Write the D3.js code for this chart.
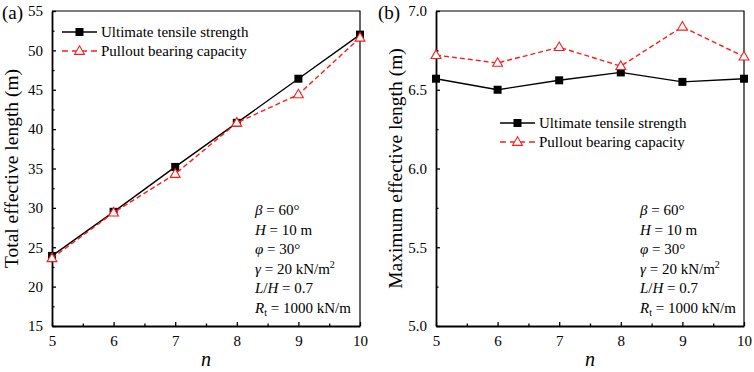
<!DOCTYPE html>
<html>
<head>
<meta charset="utf-8">
<script src="https://cdn.jsdelivr.net/npm/d3@7"></script>
<style>
  body { margin: 0; background: #fff; }
  svg { display: block; font-family: "Liberation Serif", "Times New Roman", Tinos, serif; }
  .axis path, .axis line { stroke: #000; }
  .axis text { font-size: 15px; fill: #000; font-family: "Liberation Serif", "Times New Roman", serif; }
</style>
</head>
<body>
<svg id="chart" width="754" height="372"></svg>
<script>
// data
var nValues = [5, 6, 7, 8, 9, 10];
var totalUltimate = [23.9, 29.5, 35.2, 40.8, 46.4, 52.0];
var totalPullout = [23.6, 29.4, 34.3, 40.8, 44.4, 51.6];
var maxUltimate = [6.57, 6.50, 6.56, 6.61, 6.55, 6.57];
var maxPullout = [6.72, 6.67, 6.77, 6.65, 6.90, 6.71];

var xTicks = [5, 6, 7, 8, 9, 10];
var xMinor = [5.5, 6.5, 7.5, 8.5, 9.5];
var totalTicks = [15, 20, 25, 30, 35, 40, 45, 50, 55];
var totalMinor = [17.5, 22.5, 27.5, 32.5, 37.5, 42.5, 47.5, 52.5];
var maxTicks = [5.0, 5.5, 6.0, 6.5, 7.0];
var maxMinor = [5.25, 5.75, 6.25, 6.75];

var seriesNames = ["Ultimate tensile strength", "Pullout bearing capacity"];

var svg = d3.select("#chart");
var red = "#ff1a1a";

drawPanel({
  left: 52, right: 360, top: 11, bottom: 326,
  label: "(a)", labelX: 2,
  yDomain: [15, 55], yTicks: totalTicks, yMinor: totalMinor, yFormat: d3.format("d"),
  yTitle: "Total effective length (m)", yTitleX: 18,
  ult: totalUltimate, pull: totalPullout,
  legendX: 62, legendY: 32,
  noteX: 255
});

drawPanel({
  left: 436, right: 744, top: 11, bottom: 326,
  label: "(b)", labelX: 378,
  yDomain: [5, 7], yTicks: maxTicks, yMinor: maxMinor, yFormat: d3.format(".1f"),
  yTitle: "Maximum effective length (m)", yTitleX: 402,
  ult: maxUltimate, pull: maxPullout,
  legendX: 500, legendY: 123,
  noteX: 640
});

function drawPanel(cfg) {
  var x = d3.scaleLinear().domain([5, 10]).range([cfg.left, cfg.right]);
  var y = d3.scaleLinear().domain(cfg.yDomain).range([cfg.bottom, cfg.top]);
  var g = svg.append("g");

  // frame top/right
  g.append("path")
    .attr("d", "M" + cfg.left + "," + cfg.top + "H" + cfg.right + "V" + cfg.bottom)
    .attr("fill", "none").attr("stroke", "#000").attr("stroke-width", 1.2);

  // bottom axis
  g.append("g").attr("class", "axis")
    .attr("transform", "translate(0," + cfg.bottom + ")")
    .call(d3.axisBottom(x).tickValues(xTicks).tickFormat(d3.format("d"))
      .tickSizeInner(-4).tickSizeOuter(0).tickPadding(9));
  g.append("g").attr("class", "axis")
    .attr("transform", "translate(0," + cfg.bottom + ")")
    .call(d3.axisBottom(x).tickValues(xMinor).tickSizeInner(-2.5).tickSizeOuter(0).tickFormat(""))
    .select(".domain").remove();

  // left axis
  g.append("g").attr("class", "axis")
    .attr("transform", "translate(" + cfg.left + ",0)")
    .call(d3.axisLeft(y).tickValues(cfg.yTicks).tickSizeInner(-4).tickSizeOuter(0).tickPadding(9).tickFormat(cfg.yFormat));
  g.append("g").attr("class", "axis")
    .attr("transform", "translate(" + cfg.left + ",0)")
    .call(d3.axisLeft(y).tickValues(cfg.yMinor).tickSizeInner(-2.5).tickSizeOuter(0).tickFormat(""))
    .select(".domain").remove();

  g.selectAll(".axis .domain").attr("stroke-width", 1.8);
  g.selectAll(".axis .tick line").attr("stroke-width", 1.3);

  // titles
  g.append("text")
    .attr("x", cfg.labelX).attr("y", 19)
    .attr("font-size", 19).text(cfg.label);

  g.append("text")
    .attr("transform", "translate(" + cfg.yTitleX + "," + ((cfg.top + cfg.bottom) / 2) + ") rotate(-90)")
    .attr("text-anchor", "middle").attr("font-size", 19.5)
    .text(cfg.yTitle);

  g.append("text")
    .attr("x", (cfg.left + cfg.right) / 2).attr("y", 366)
    .attr("text-anchor", "middle").attr("font-size", 20).attr("font-style", "italic")
    .text("n");

  // series
  var line = d3.line()
    .x(function(d) { return x(d[0]); })
    .y(function(d) { return y(d[1]); });

  var ultPts = nValues.map(function(n, i) { return [n, cfg.ult[i]]; });
  var pullPts = nValues.map(function(n, i) { return [n, cfg.pull[i]]; });

  g.append("path").datum(ultPts)
    .attr("d", line).attr("fill", "none").attr("stroke", "#000").attr("stroke-width", 1.4);
  g.selectAll(".sq").data(ultPts).enter().append("rect")
    .attr("x", function(d) { return x(d[0]) - 4; })
    .attr("y", function(d) { return y(d[1]) - 4; })
    .attr("width", 8).attr("height", 8).attr("fill", "#000");

  g.append("path").datum(pullPts)
    .attr("d", line).attr("fill", "none").attr("stroke", red)
    .attr("stroke-width", 1.4).attr("stroke-dasharray", "5,3");
  var tri = d3.symbol().type(d3.symbolTriangle).size(42);
  g.selectAll(".tri").data(pullPts).enter().append("path")
    .attr("d", tri)
    .attr("transform", function(d) { return "translate(" + x(d[0]) + "," + (y(d[1]) + 0.5) + ")"; })
    .attr("fill", "#fff").attr("stroke", red).attr("stroke-width", 1.1);

  // legend
  var lg = g.append("g").attr("transform", "translate(" + cfg.legendX + "," + cfg.legendY + ")");
  lg.append("line").attr("x1", 0).attr("x2", 35).attr("y1", 0).attr("y2", 0)
    .attr("stroke", "#000").attr("stroke-width", 1.4);
  lg.append("rect").attr("x", 13.5).attr("y", -4).attr("width", 8).attr("height", 8).attr("fill", "#000");
  lg.append("line").attr("x1", 0).attr("x2", 35).attr("y1", 19).attr("y2", 19)
    .attr("stroke", red).attr("stroke-width", 1.4).attr("stroke-dasharray", "6,4,15,4,6");
  lg.append("path").attr("d", tri).attr("transform", "translate(17.5,19.5)")
    .attr("fill", "#fff").attr("stroke", red).attr("stroke-width", 1.1);
  lg.selectAll(".lt").data(seriesNames).enter().append("text")
    .attr("x", 39).attr("y", function(d, i) { return i * 19 + 5; })
    .attr("font-size", 15).text(function(d) { return d; });

  // parameter note
  var rows = [
    [["β", 1], [" = 60°", 0]],
    [["H", 1], [" = 10 m", 0]],
    [["φ", 1], [" = 30°", 0]],
    [["γ", 1], [" = 20 kN/m", 0], ["2", 2]],
    [["L", 1], ["/", 0], ["H", 1], [" = 0.7", 0]],
    [["R", 1], ["t", 3], [" = 1000 kN/m", 0]]
  ];
  rows.forEach(function(row, i) {
    var t = g.append("text").attr("font-size", 15)
      .attr("x", cfg.noteX).attr("y", 215 + i * 19.5);
    row.forEach(function(part) {
      var s = t.append("tspan").text(part[0]);
      if (part[1] === 1) s.attr("font-style", "italic");
      if (part[1] === 2) s.attr("font-size", 10).attr("dy", -6);
      if (part[1] === 3) s.attr("font-size", 10).attr("dy", 3);
      if (part[1] === 0 && row[0][0] === "R") s.attr("dy", -3);
    });
  });
}
</script>
</body>
</html>
